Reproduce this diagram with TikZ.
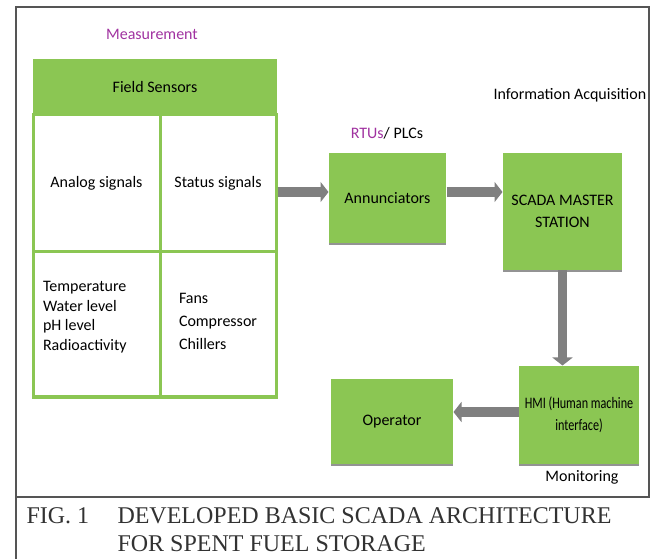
\documentclass[tikz,border=0pt]{standalone}
\usepackage{fontspec}
\setmainfont{Carlito}
\newfontfamily\capfont{Liberation Serif}
\newfontfamily\narrowfont[FakeStretch=0.76]{Carlito}
\usetikzlibrary{arrows.meta,shadows}
\definecolor{boxgreen}{RGB}{139,198,83}
\definecolor{labelpurple}{RGB}{160,50,160}
\definecolor{arrowgray}{RGB}{128,128,128}
\definecolor{framegray}{RGB}{85,85,85}
\definecolor{captiongray}{RGB}{50,50,50}
\tikzset{every picture/.style={line width=0.75pt},
  greenbox/.style={fill=boxgreen, draw=none, inner sep=0pt, align=center,
    font=\fontsize{12}{16}\selectfont, general shadow={fill=arrowgray!85, shadow yshift=-1.5pt}},
  sensorcell/.style={draw=boxgreen, line width=2.25pt, fill=white, inner sep=0pt,
    align=center, font=\fontsize{12}{15}\selectfont},
  bigarrow/.style={draw=arrowgray, line width=7pt, -{Triangle[length=6pt,width=15pt]}},
  textlabel/.style={inner sep=0.75pt, font=\fontsize{12}{15}\selectfont},
  captext/.style={inner sep=0pt, anchor=base west, text=captiongray, font=\capfont\fontsize{18}{21}\selectfont}
}

\begin{document}
\begin{tikzpicture}[x=0.75pt,y=0.75pt,yscale=-1,xscale=1]
    \useasboundingbox (0,0) rectangle (653,559);
    %Shape: Frame
    \draw [framegray, line width=1.5pt] (16,7) rectangle (649,497) ;
    %Straight Lines
    \draw [framegray, line width=1.5pt] (16,497) -- (16,559) ;
    %Shape: Rectangle [Field Sensors]
    \node (field) at (155,87) [fill=boxgreen, inner sep=0pt, minimum width=183pt, minimum height=42pt, font=\fontsize{12}{15}\selectfont] {Field Sensors};
    %Shape: Rectangle [cells]
    \node (analog) at (96.5,183.5) [sensorcell, minimum width=95.25pt, minimum height=102.75pt] {Analog signals};
    \node (status) at (218,183.5) [sensorcell, minimum width=87pt, minimum height=102.75pt] {Status signals};
    \node (params) at (96.5,324.5) [sensorcell, minimum width=95.25pt, minimum height=108.75pt] {};
    \node (actuators) at (218,324.5) [sensorcell, minimum width=87pt, minimum height=108.75pt] {};
    % Text Node
    \node (paramlist) at ([xshift=8.25pt,yshift=-5.6pt]params.west) [anchor=west, align=left, inner sep=0pt, font=\fontsize{12}{14.75}\selectfont] {Temperature\\Water level\\pH level\\Radioactivity};
    % Text Node
    \node (fanlist) at ([xshift=15pt,yshift=-2.6pt]actuators.west) [anchor=west, align=left, inner sep=0pt, font=\fontsize{12}{17.25}\selectfont] {Fans\\Compressor\\Chillers};
    %Shape: Rectangle [RTU boxes]
    \node (ann) at (387.5,198) [greenbox, minimum width=87.75pt, minimum height=67.5pt] {Annunciators};
    \node (scada) at (562.5,211.5) [greenbox, minimum width=89.25pt, minimum height=87.75pt] {SCADA MASTER\\STATION};
    \node (hmi) at (579,415) [greenbox, minimum width=90pt, minimum height=73.5pt, font=\narrowfont\fontsize{12}{16.5}\selectfont] {HMI (Human machine\\interface)};
    \node (op) at (392,421.5) [greenbox, minimum width=91.5pt, minimum height=63.75pt] {Operator};
    %Arrows
    \draw [bigarrow] ([yshift=6.4pt]status.east) -- ([yshift=6.4pt]status.east -| ann.west) ;
    \draw [bigarrow] ([yshift=-4.5pt]ann.east) -- ([yshift=-4.5pt]ann.east -| scada.west) ;
    \draw [bigarrow] (scada.south) -- (scada.south |- hmi.north) ;
    \draw [bigarrow] ([yshift=-2.25pt]hmi.west) -- ([yshift=-2.25pt]hmi.west -| op.east) ;
    % Text Node
    \node (measure) at (152,34) [textlabel, text=labelpurple] {Measurement};
    % Text Node
    \node (rtus) at (387,133) [textlabel] {\textcolor{labelpurple}{RTUs}/ PLCs};
    % Text Node
    \node (acq) at (492,95) [textlabel, anchor=west] {Information Acquisition};
    % Text Node
    \node (monitor) at (582,477) [textlabel] {Monitoring};
    % Text Node [caption]
    \node (fignum) at (26,523) [captext] {FIG. 1};
    \node (capa) at (117,523) [captext] {DEVELOPED BASIC SCADA ARCHITECTURE};
    \node (capb) at (117,551) [captext] {FOR SPENT FUEL STORAGE};
\end{tikzpicture}
\end{document}
